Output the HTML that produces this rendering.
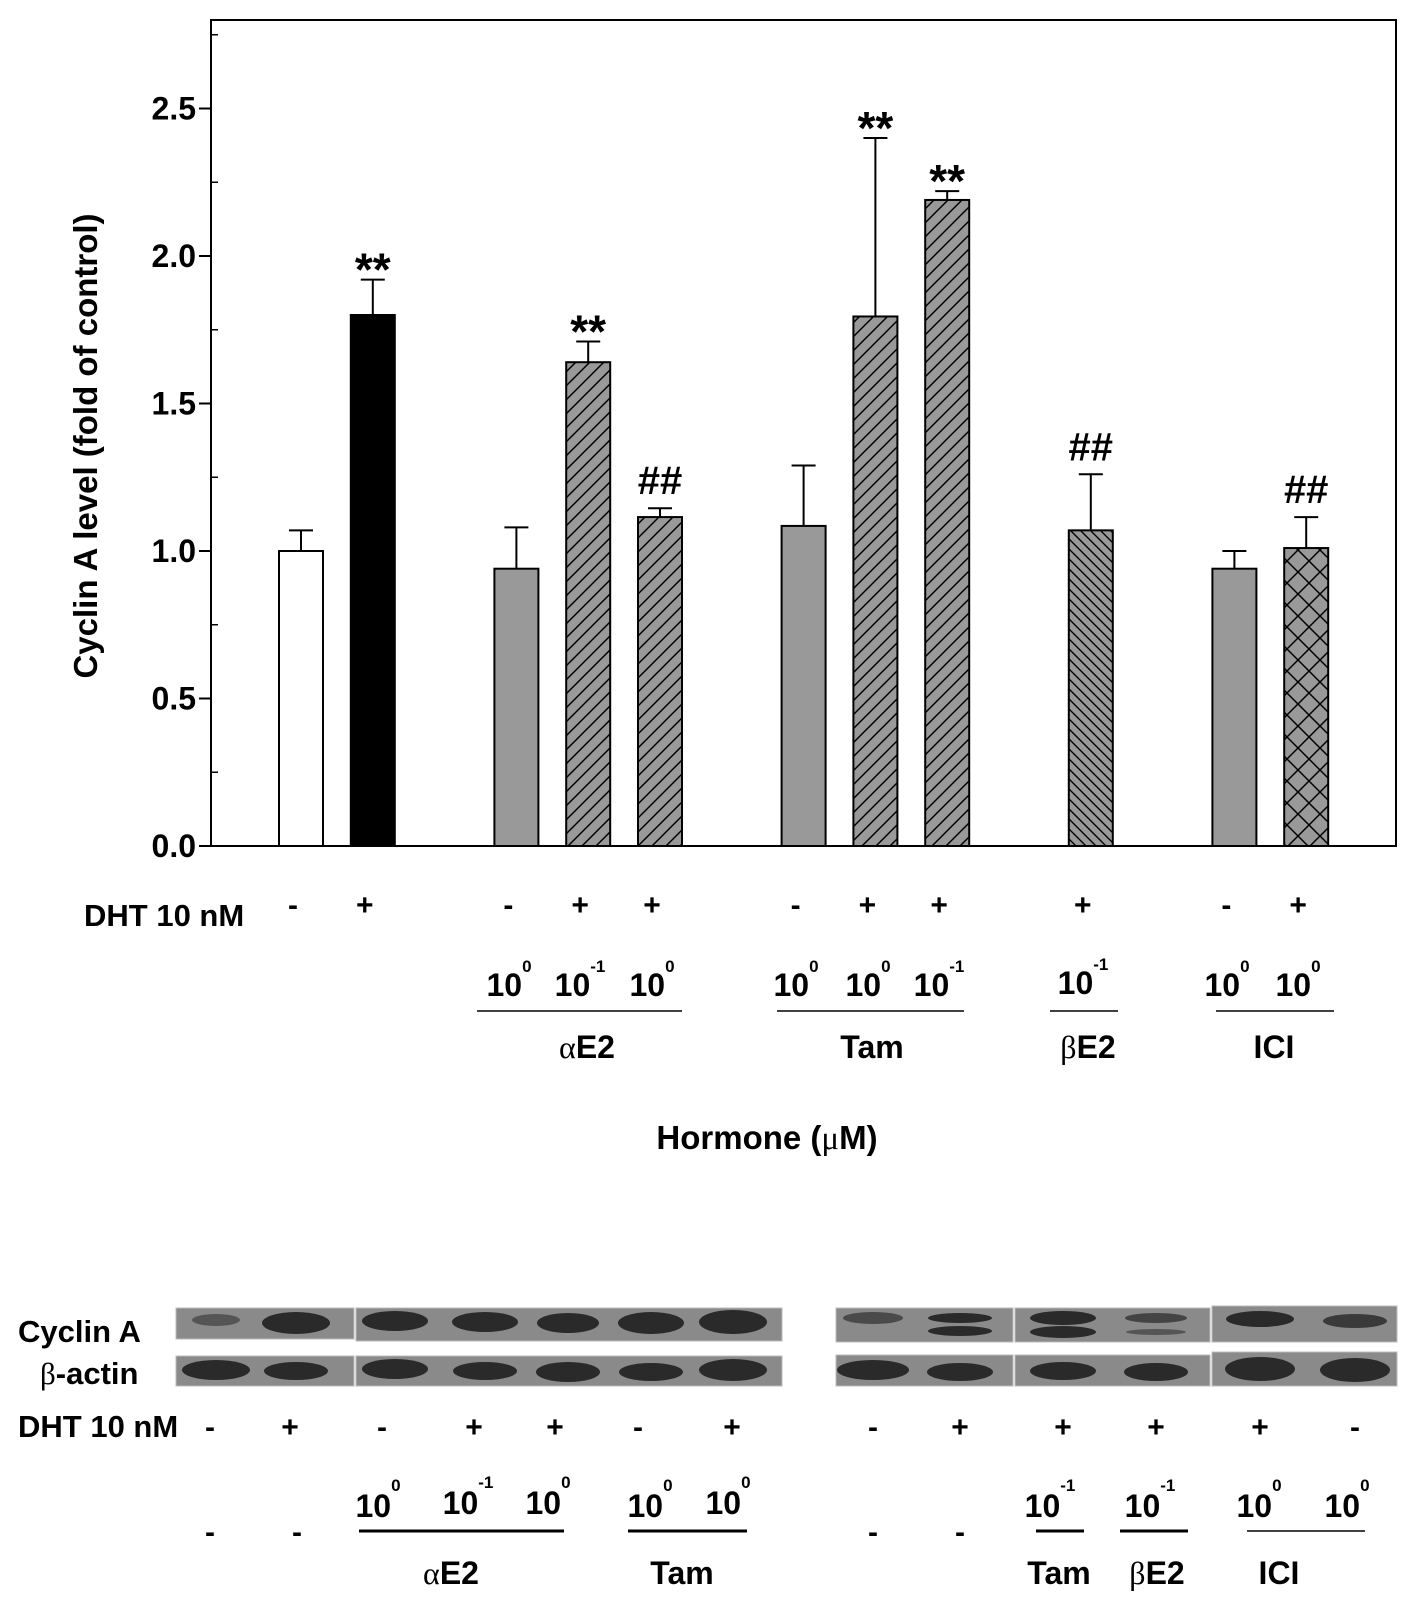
<!DOCTYPE html>
<html><head><meta charset="utf-8"><style>
body{margin:0;background:#fff;}
svg{display:block;font-family:"Liberation Sans",sans-serif;font-weight:bold;}
</style></head><body>
<svg id="chart" width="1417" height="1608" viewBox="0 0 1417 1608" xmlns="http://www.w3.org/2000/svg">
<defs>
<pattern id="hf" patternUnits="userSpaceOnUse" width="14" height="14"><rect width="14" height="14" fill="#999"/><path d="M-2,16 L16,-2 M-2,2 L2,-2 M12,16 L16,12" stroke="#000" stroke-width="1.5"/></pattern>
<pattern id="hb" patternUnits="userSpaceOnUse" width="10" height="10"><rect width="10" height="10" fill="#999"/><path d="M-2,-2 L12,12 M-2,8 L2,12 M8,-2 L12,2" stroke="#000" stroke-width="1.4"/></pattern>
<pattern id="hx" patternUnits="userSpaceOnUse" width="22" height="22"><rect width="22" height="22" fill="#999"/><path d="M0,0 L22,22 M22,0 L0,22" stroke="#000" stroke-width="1.5"/></pattern>
</defs>
<g id="plot"></g>
</svg>
<script>
const categories=["ctrl","DHT","aE2-1","aE2-2","aE2-3","Tam-1","Tam-2","Tam-3","bE2","ICI-1","ICI-2"];
const values=[1.00,1.80,0.94,1.64,1.115,1.085,1.795,2.19,1.07,0.94,1.01];
const errors=[0.07,0.12,0.14,0.07,0.03,0.205,0.605,0.03,0.19,0.06,0.105];
const fills=["#fff","#000","#999","url(#hf)","url(#hf)","#999","url(#hf)","url(#hf)","url(#hb)","#999","url(#hx)"];
const marks=["","**","","**","##","","**","**","##","","##"];
const dhtSigns=["-","+","-","+","+","-","+","+","+","-","+"];
const yTicks=[0,0.5,1.0,1.5,2.0,2.5];
const yTickLabels=["0.0","0.5","1.0","1.5","2.0","2.5"];
const minorTicks=[0.25,0.75,1.25,1.75,2.25,2.75];
const slots=[0,1,3,4,5,7,8,9,11,13,14];

const NS="http://www.w3.org/2000/svg";
const g=document.getElementById('plot');
const L=211,R=1396,T=20,B=846,yMax=2.8;
const y=v=>B-(B-T)*v/yMax;
const xc=i=>301+slots[i]*71.8;
const bw=44;
function el(tag,attrs,parent){const e=document.createElementNS(NS,tag);for(const k in attrs)e.setAttribute(k,attrs[k]);(parent||g).appendChild(e);return e;}
function txt(s,attrs,parent){const e=el('text',attrs,parent);e.textContent=s;return e;}

let fr=el('rect',{x:L,y:T,width:R-L,height:B-T,fill:'none',stroke:'#000','stroke-width':2});


yTicks.forEach((v,i)=>{
  let t=el('line',{x1:L-12,x2:L,y1:y(v),y2:y(v),stroke:'#000','stroke-width':2});
  
  
  let lb=txt(yTickLabels[i],{x:196,y:y(v)+11,'text-anchor':'end','font-size':32});
  
  
});
minorTicks.forEach(v=>{
  let t=el('line',{x1:L,x2:L+7,y1:y(v),y2:y(v),stroke:'#000','stroke-width':1.5});
  
  
});
let yt=txt('Cyclin A level (fold of control)',{x:0,y:0,'text-anchor':'middle','font-size':33,transform:'translate(97,446) rotate(-90)'});



categories.forEach((c,i)=>{
  const cx=xc(i),top=y(values[i]),et=y(values[i]+errors[i]);
  let eb=el('line',{x1:cx,x2:cx,y1:top,y2:et,stroke:'#000','stroke-width':2});
  
  
  let cap=el('line',{x1:cx-12,x2:cx+12,y1:et,y2:et,stroke:'#000','stroke-width':2});
  
  
  let b=el('rect',{x:cx-bw/2,y:top,width:bw,height:B-top,fill:fills[i],stroke:'#000','stroke-width':2});
  
  
  if(marks[i]){
    let m=txt(marks[i],{x:cx,y:et-(marks[i]=='**'?-6:14),'text-anchor':'middle','font-size':marks[i]=='**'?46:40});
    
    
  }
  let s=txt(dhtSigns[i],{x:cx-8,y:915,'text-anchor':'middle','font-size':30});
  
  
});
</script>
<svg style="position:absolute;left:0;top:0" width="1417" height="1608" xmlns="http://www.w3.org/2000/svg" font-family="Liberation Sans, sans-serif" font-weight="bold">
<g>
<text x="84" y="926" font-size="31">DHT 10 nM</text>
<g font-size="32" text-anchor="middle">
<text x="509" y="996">10<tspan font-size="17" dy="-24">0</tspan></text>
<text x="580" y="996">10<tspan font-size="17" dy="-24">-1</tspan></text>
<text x="652" y="996">10<tspan font-size="17" dy="-24">0</tspan></text>
<text x="796" y="996">10<tspan font-size="17" dy="-24">0</tspan></text>
<text x="868" y="996">10<tspan font-size="17" dy="-24">0</tspan></text>
<text x="939" y="996">10<tspan font-size="17" dy="-24">-1</tspan></text>
<text x="1083" y="994">10<tspan font-size="17" dy="-24">-1</tspan></text>
<text x="1227" y="996">10<tspan font-size="17" dy="-24">0</tspan></text>
<text x="1298" y="996">10<tspan font-size="17" dy="-24">0</tspan></text>
</g>
<g stroke="#000" stroke-width="1.5">
<line x1="477" x2="682" y1="1011" y2="1011"/><line x1="777" x2="964" y1="1011" y2="1011"/>
<line x1="1050" x2="1118" y1="1011" y2="1011"/><line x1="1216" x2="1334" y1="1011" y2="1011"/>
</g>
<g font-size="32" text-anchor="middle">
<text x="587" y="1058" font-family="Liberation Serif, serif" font-weight="normal">α<tspan font-family="Liberation Sans, sans-serif" font-weight="bold">E2</tspan></text>
<text x="872" y="1058">Tam</text>
<text x="1088" y="1058" font-family="Liberation Serif, serif" font-weight="normal">β<tspan font-family="Liberation Sans, sans-serif" font-weight="bold">E2</tspan></text>
<text x="1274" y="1058">ICI</text>
<text x="767" y="1149" font-size="33">Hormone (<tspan font-family="Liberation Serif, serif" font-weight="normal">μ</tspan>M)</text>
</g>
</g>
<g>
<g fill="#8a8a8a" stroke="#bbb" stroke-width="1">
<rect x="176" y="1308" width="178" height="31"/><rect x="356" y="1308" width="426" height="33"/>
<rect x="176" y="1356" width="178" height="30"/><rect x="356" y="1356" width="426" height="30"/>
<rect x="836" y="1308" width="177" height="34"/><rect x="1015" y="1308" width="195" height="34"/><rect x="1212" y="1306" width="185" height="36"/>
<rect x="836" y="1355" width="177" height="31"/><rect x="1015" y="1355" width="195" height="31"/><rect x="1212" y="1352" width="185" height="34"/>
</g>
<g fill="#2a2a2a">
<ellipse cx="216" cy="1320" rx="24" ry="6" fill="#555"/><ellipse cx="296" cy="1323" rx="34" ry="11"/>
<ellipse cx="395" cy="1321" rx="33" ry="10"/><ellipse cx="485" cy="1322" rx="33" ry="10"/><ellipse cx="568" cy="1323" rx="31" ry="10"/><ellipse cx="651" cy="1323" rx="33" ry="11"/><ellipse cx="733" cy="1322" rx="34" ry="12"/>
<ellipse cx="216" cy="1370" rx="34" ry="10"/><ellipse cx="296" cy="1371" rx="32" ry="9"/><ellipse cx="395" cy="1369" rx="33" ry="10"/><ellipse cx="485" cy="1371" rx="32" ry="9"/><ellipse cx="568" cy="1372" rx="32" ry="10"/><ellipse cx="651" cy="1372" rx="32" ry="9"/><ellipse cx="733" cy="1370" rx="34" ry="11"/>
<ellipse cx="873" cy="1318" rx="30" ry="6" fill="#4a4a4a"/><ellipse cx="960" cy="1318" rx="32" ry="5"/><ellipse cx="960" cy="1331" rx="32" ry="5"/>
<ellipse cx="1063" cy="1318" rx="33" ry="7"/><ellipse cx="1063" cy="1332" rx="33" ry="6"/><ellipse cx="1156" cy="1318" rx="31" ry="5" fill="#444"/><ellipse cx="1156" cy="1332" rx="30" ry="3" fill="#555"/>
<ellipse cx="1260" cy="1319" rx="34" ry="8"/><ellipse cx="1355" cy="1321" rx="32" ry="7" fill="#3a3a3a"/>
<ellipse cx="873" cy="1370" rx="36" ry="10"/><ellipse cx="960" cy="1372" rx="33" ry="9"/><ellipse cx="1063" cy="1371" rx="33" ry="9"/><ellipse cx="1156" cy="1372" rx="32" ry="9"/><ellipse cx="1260" cy="1369" rx="35" ry="12"/><ellipse cx="1355" cy="1370" rx="35" ry="12"/>
</g>
<g font-size="31">
<text x="18" y="1342">Cyclin A</text>
<text x="40" y="1384"><tspan font-family="Liberation Serif, serif" font-weight="normal">β</tspan>-actin</text>
<text x="18" y="1437">DHT 10 nM</text>
</g>
<g font-size="30" text-anchor="middle">
<text x="210" y="1437">-</text><text x="290" y="1437">+</text><text x="382" y="1437">-</text><text x="474" y="1437">+</text><text x="555" y="1437">+</text><text x="638" y="1437">-</text><text x="732" y="1437">+</text>
<text x="873" y="1437">-</text><text x="960" y="1437">+</text><text x="1063" y="1437">+</text><text x="1156" y="1437">+</text><text x="1260" y="1437">+</text><text x="1355" y="1437">-</text>
<text x="210" y="1542">-</text><text x="297" y="1542">-</text><text x="873" y="1542">-</text><text x="960" y="1542">-</text>
</g>
<g font-size="32" text-anchor="middle">
<text x="378" y="1517">10<tspan font-size="17" dy="-26">0</tspan></text>
<text x="468" y="1514">10<tspan font-size="17" dy="-26">-1</tspan></text>
<text x="548" y="1514">10<tspan font-size="17" dy="-26">0</tspan></text>
<text x="650" y="1517">10<tspan font-size="17" dy="-26">0</tspan></text>
<text x="728" y="1514">10<tspan font-size="17" dy="-26">0</tspan></text>
<text x="1050" y="1517">10<tspan font-size="17" dy="-26">-1</tspan></text>
<text x="1150" y="1517">10<tspan font-size="17" dy="-26">-1</tspan></text>
<text x="1259" y="1517">10<tspan font-size="17" dy="-26">0</tspan></text>
<text x="1347" y="1517">10<tspan font-size="17" dy="-26">0</tspan></text>
</g>
<g stroke="#000">
<line x1="359" x2="564" y1="1531" y2="1531" stroke-width="3"/><line x1="628" x2="747" y1="1531" y2="1531" stroke-width="3"/>
<line x1="1036" x2="1084" y1="1531" y2="1531" stroke-width="3"/><line x1="1120" x2="1188" y1="1531" y2="1531" stroke-width="3"/>
<line x1="1247" x2="1365" y1="1531" y2="1531" stroke-width="1.5"/>
</g>
<g font-size="32" text-anchor="middle">
<text x="451" y="1584" font-family="Liberation Serif, serif" font-weight="normal">α<tspan font-family="Liberation Sans, sans-serif" font-weight="bold">E2</tspan></text>
<text x="682" y="1584">Tam</text>
<text x="1059" y="1584">Tam</text>
<text x="1157" y="1584" font-family="Liberation Serif, serif" font-weight="normal">β<tspan font-family="Liberation Sans, sans-serif" font-weight="bold">E2</tspan></text>
<text x="1279" y="1584">ICI</text>
</g>
</g>
</svg>
</body></html>
